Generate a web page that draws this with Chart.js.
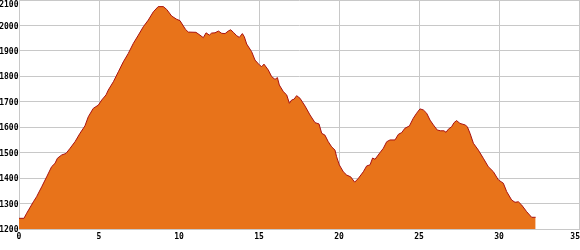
<!DOCTYPE html>
<html>
<head>
<meta charset="utf-8">
<style>
  html, body { margin: 0; padding: 0; background: #fff; }
  #wrap { width: 580px; height: 250px; position: relative; }
</style>
<script src="https://cdn.jsdelivr.net/npm/chart.js@4/dist/chart.umd.min.js"></script>
</head>
<body>
<div id="wrap"><canvas id="profileChart"></canvas></div>
<script>
// distance along the route (km) and elevation (m)
const distances = [0, 0.31, 0.48, 0.9, 1.1, 1.42, 1.73, 2.04, 2.25, 2.4, 2.67, 2.94, 3.19, 3.5, 3.81, 4.12, 4.33, 4.64, 4.96,
  5.17, 5.44, 5.58, 5.9, 6.21, 6.52, 6.83, 7.15, 7.46, 7.77, 8.08, 8.4, 8.7, 9.02, 9.23, 9.54, 9.86, 10.06, 10.4, 10.58,
  11.06, 11.31, 11.52, 11.69, 11.9, 12.04, 12.25, 12.46, 12.67, 12.88, 13.08, 13.23, 13.4, 13.6, 13.77, 13.96, 14.08,
  14.23, 14.54, 14.75, 15.02, 15.17, 15.31, 15.58, 15.79, 16, 16.15, 16.27, 16.52, 16.73, 16.9, 17.04, 17.19, 17.35,
  17.56, 17.88, 18.19, 18.5, 18.75, 18.92, 19.12, 19.33, 19.54, 19.75, 19.85, 20.02, 20.27, 20.48, 20.73, 20.98, 21.21,
  21.52, 21.73, 21.94, 22.1, 22.25, 22.56, 22.77, 22.98, 23.19, 23.5, 23.71, 23.92, 24.12, 24.4, 24.64, 24.85, 25.06,
  25.27, 25.48, 25.69, 25.9, 26.14, 26.35, 26.56, 26.69, 26.83, 27.04, 27.19, 27.35, 27.56, 27.88, 28.02, 28.19, 28.4,
  28.71, 29.02, 29.33, 29.65, 29.96, 30.27, 30.48, 30.79, 31, 31.21, 31.42, 31.73, 32.04, 32.29];
const elevations = [1242, 1242, 1262, 1307, 1327, 1366, 1405, 1445, 1458, 1478, 1491, 1497, 1517, 1543, 1576, 1605, 1641, 1674, 1687,
  1707, 1727, 1746, 1779, 1818, 1857, 1890, 1930, 1962, 1995, 2021, 2054, 2074, 2074, 2063, 2037, 2024, 2019, 1985, 1974,
  1973, 1962, 1952, 1971, 1962, 1970, 1971, 1978, 1969, 1968, 1978, 1983, 1973, 1960, 1953, 1968, 1956,
  1927, 1897, 1864, 1845, 1838, 1848, 1825, 1799, 1788, 1795, 1766, 1740, 1727, 1694, 1707, 1710, 1724,
  1714, 1683, 1648, 1618, 1613, 1576, 1569, 1543, 1523, 1510, 1484, 1452, 1425, 1412, 1405, 1384, 1399,
  1425, 1448, 1452, 1479, 1474, 1500, 1517, 1543, 1550, 1550, 1572, 1579, 1596, 1605, 1635, 1655, 1672,
  1668, 1655, 1628, 1609, 1589, 1586, 1586, 1580, 1592, 1602, 1618, 1626, 1615, 1609, 1602, 1576, 1537,
  1510, 1478, 1445, 1425, 1393, 1380, 1347, 1314, 1305, 1307, 1294, 1268, 1246, 1246];
const xTicks = [0, 5, 10, 15, 20, 25, 30, 35];
const yTicks = [1200, 1300, 1400, 1500, 1600, 1700, 1800, 1900, 2000, 2100];

const gridColor = '#c8c8c8';
const labelFont = 'bold 8px "DejaVu Sans Mono"';

// tick labels drawn by hand so the end ones stay inside the canvas like in the original
const tickLabels = {
  id: 'tickLabels',
  afterDraw(chart) {
    const ctx = chart.ctx;
    const xs = chart.scales.x, ys = chart.scales.y;
    ctx.save();
    ctx.font = labelFont;
    ctx.fillStyle = '#000';
    ctx.textAlign = 'right';
    ctx.textBaseline = 'middle';
    yTicks.forEach(v => {
      let py = ys.getPixelForValue(v) + 1;
      if (py < 5) py = 5;
      ctx.fillText(String(v), xs.left - 0.5, py);
    });
    ctx.textBaseline = 'top';
    xTicks.forEach(v => {
      const px = xs.getPixelForValue(v);
      const w = ctx.measureText(String(v)).width;
      let left = px - w / 2;
      if (left + w > chart.width) left = chart.width - w;
      ctx.textAlign = 'left';
      ctx.fillText(String(v), left, ys.bottom + 4);
    });
    ctx.restore();
  }
};

new Chart(document.getElementById('profileChart').getContext('2d'), {
  type: 'line',
  data: {
    datasets: [{
      data: distances.map((d, i) => ({ x: d, y: elevations[i] })),
      borderColor: '#a81212',
      backgroundColor: '#e8731a',
      borderWidth: 1,
      fill: 'start',
      tension: 0,
      pointRadius: 0
    }]
  },
  options: {
    responsive: true, maintainAspectRatio: false, animation: false,
    layout: { autoPadding: false, padding: { left: 19, right: 1, top: 0, bottom: 21 } },
    plugins: { legend: { display: false }, tooltip: { enabled: false } },
    scales: {
      x: {
        type: 'linear', min: 0, max: 35,
        ticks: { display: false, stepSize: 5 },
        grid: { color: gridColor, drawTicks: false },
        border: { color: gridColor }
      },
      y: {
        min: 1200, max: 2100,
        ticks: { display: false, stepSize: 100 },
        grid: { color: gridColor, drawTicks: false },
        border: { color: gridColor }
      }
    }
  },
  plugins: [tickLabels]
});
</script>
</body>
</html>
